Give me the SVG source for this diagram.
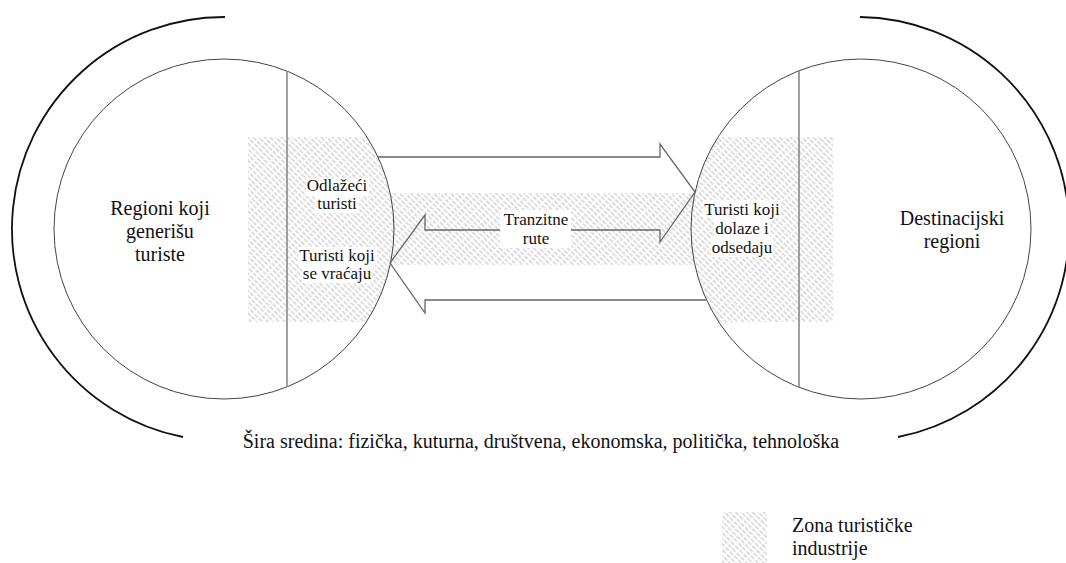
<svg xmlns="http://www.w3.org/2000/svg" width="1066" height="563" viewBox="0 0 1066 563">
<style>
.lbl{font-family:"Liberation Serif","DejaVu Serif",serif;fill:#111;text-anchor:middle}
.big{font-size:20px}
.sm{font-size:17px}
.circ{fill:none;stroke:#444;stroke-width:1}
.outer{fill:none;stroke:#111;stroke-width:1.8}
.div{stroke:#8a8a8a;stroke-width:1.6}
.arr{fill:none;stroke:#666;stroke-width:1.3;stroke-linejoin:miter}
.bg{fill:#fff}
</style>
<defs>
<pattern id="hatch" width="4" height="6" patternUnits="userSpaceOnUse" patternTransform="rotate(-45)">
<line x1="2" y1="0" x2="2" y2="4.6" stroke="#b3b3b3" stroke-width="0.9"/>
</pattern>
<clipPath id="zoneClip">
<circle cx="224" cy="229" r="170"/>
<circle cx="861" cy="229" r="170"/>
<rect x="248" y="193" width="585" height="72"/>
</clipPath>
</defs>
<rect width="1066" height="563" fill="#fff"/>
<g id="zone">
<rect x="248" y="137" width="585" height="185" fill="url(#hatch)" clip-path="url(#zoneClip)"/>
</g>
<g id="generating-region">
<path class="outer" d="M225,17 A212,212 0 0 0 183,437"/>
<circle class="circ" cx="224" cy="229" r="170"/>
<line class="div" x1="287" y1="71" x2="287" y2="387"/>
<text class="lbl big" font-family="Liberation Serif, serif" x="160" y="215">Regioni koji</text>
<text class="lbl big" font-family="Liberation Serif, serif" x="160" y="238">generišu</text>
<text class="lbl big" font-family="Liberation Serif, serif" x="160" y="261">turiste</text>
</g>
<g id="destination-region">
<path class="outer" d="M860,17 A212,212 0 0 1 898,437"/>
<circle class="circ" cx="861" cy="229" r="170"/>
<line class="div" x1="799" y1="71" x2="799" y2="387"/>
<text class="lbl big" font-family="Liberation Serif, serif" x="952" y="225">Destinacijski</text>
<text class="lbl big" font-family="Liberation Serif, serif" x="952" y="248">regioni</text>
</g>
<g id="connectors">
<path class="arr" d="M378,157 L660,157 L660,144 L695,192 L660,242 L660,230 L425,230 L425,215 L390,263 L425,313 L425,300 L706,300"/>
</g>
<g id="departing">
<rect class="bg" x="306" y="178" width="63" height="18"/>
<rect class="bg" x="315" y="196" width="44" height="17"/>
<text class="lbl sm" font-family="Liberation Serif, serif" x="337" y="191">Odlažeći</text>
<text class="lbl sm" font-family="Liberation Serif, serif" x="337" y="209">turisti</text>
</g>
<g id="returning">
<rect class="bg" x="298" y="247" width="79" height="18"/>
<rect class="bg" x="302" y="265" width="71" height="18"/>
<text class="lbl sm" font-family="Liberation Serif, serif" x="337" y="261">Turisti koji</text>
<text class="lbl sm" font-family="Liberation Serif, serif" x="337" y="279">se vraćaju</text>
</g>
<g id="transit">
<rect class="bg" x="500" y="210" width="71" height="38"/>
<text class="lbl sm" font-family="Liberation Serif, serif" x="536" y="225">Tranzitne</text>
<text class="lbl sm" font-family="Liberation Serif, serif" x="536" y="244">rute</text>
</g>
<g id="arriving">
<rect class="bg" x="703" y="200" width="78" height="18"/>
<rect class="bg" x="714" y="218" width="56" height="19"/>
<rect class="bg" x="711" y="237" width="62" height="20"/>
<text class="lbl sm" font-family="Liberation Serif, serif" x="742" y="215">Turisti koji</text>
<text class="lbl sm" font-family="Liberation Serif, serif" x="742" y="234">dolaze i</text>
<text class="lbl sm" font-family="Liberation Serif, serif" x="742" y="253">odsedaju</text>
</g>
<g id="environment">
<text class="lbl big" font-family="Liberation Serif, serif" x="541" y="448">Šira sredina: fizička, kuturna, društvena, ekonomska, politička, tehnološka</text>
</g>
<g id="legend">
<rect x="722" y="512" width="45" height="51" fill="url(#hatch)"/>
<text class="lbl big" font-family="Liberation Serif, serif" x="792" y="532" style="text-anchor:start">Zona turističke</text>
<text class="lbl big" font-family="Liberation Serif, serif" x="792" y="555" style="text-anchor:start">industrije</text>
</g>
</svg>
